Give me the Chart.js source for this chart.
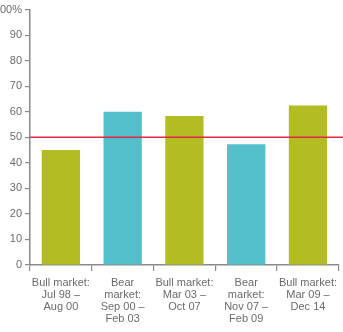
<!DOCTYPE html>
<html><head><meta charset="utf-8">
<script src="https://cdn.jsdelivr.net/npm/chart.js@4/dist/chart.umd.min.js"></script>
<style>html,body{margin:0;padding:0;background:#fff;}#wrap{width:343px;height:332px;}</style>
</head><body><div id="wrap"><canvas id="c"></canvas></div>
<script>
const categories = [
  ["Bull market:", "Jul 98 –", "Aug 00"],
  ["Bear", "market:", "Sep 00 –", "Feb 03"],
  ["Bull market:", "Mar 03 –", "Oct 07"],
  ["Bear", "market:", "Nov 07 –", "Feb 09"],
  ["Bull market:", "Mar 09 –", "Dec 14"]
];
const values = [45, 60, 58.3, 47.3, 62.5];
const marketType = ["bull", "bear", "bull", "bear", "bull"];
const yTicks = [0, 10, 20, 30, 40, 50, 60, 70, 80, 90, 100];
const threshold = 50;

const colors = { bull: "#b1bd22", bear: "#53bfcb" };
const axisColor = "#8a8a8a";
const textColor = "#6b6b6b";

const refLine = {
  id: "refLine",
  afterDatasetsDraw(chart) {
    const y = chart.scales.y.getPixelForValue(threshold);
    const ctx = chart.ctx;
    ctx.save();
    ctx.strokeStyle = "rgb(226, 40, 64)";
    ctx.lineWidth = 1.6;
    ctx.beginPath();
    ctx.moveTo(chart.chartArea.left, y);
    ctx.lineTo(chart.width, y);
    ctx.stroke();
    ctx.restore();
  }
};

new Chart(document.getElementById("c"), {
  type: "bar",
  data: {
    labels: categories,
    datasets: [{
      data: values,
      backgroundColor: marketType.map(t => colors[t]),
      borderWidth: 0,
      categoryPercentage: 0.62,
      barPercentage: 1
    }]
  },
  options: {
    responsive: true,
    maintainAspectRatio: false,
    animation: false,
    layout: { padding: { top: 9, right: 0, left: 0, bottom: 0 } },
    plugins: { legend: { display: false }, tooltip: { enabled: false } },
    scales: {
      x: {
        offset: true,
        grid: { display: true, drawOnChartArea: false, drawTicks: true, tickLength: 6, color: axisColor, lineWidth: 1.2, offset: true },
        border: { display: true, color: axisColor, width: 1.5 },
        ticks: { color: textColor, font: { family: "Liberation Sans", size: 11, lineHeight: 1.1 }, maxRotation: 0, autoSkip: false, padding: 6 },
        afterFit(s) { s.height = 67; }
      },
      y: {
        min: 0, max: 100,
        afterBuildTicks(s) { s.ticks = yTicks.map(v => ({ value: v })); },
        grid: { display: true, drawOnChartArea: false, drawTicks: true, tickLength: 5, color: axisColor, lineWidth: 1.2 },
        border: { display: true, color: axisColor, width: 1.5 },
        ticks: {
          color: textColor, font: { family: "Liberation Sans", size: 11 }, padding: 3,
          callback: v => v === 100 ? v + "%" : String(v)
        },
        afterFit(s) { s.width = 30; }
      }
    }
  },
  plugins: [refLine]
});
</script></body></html>
